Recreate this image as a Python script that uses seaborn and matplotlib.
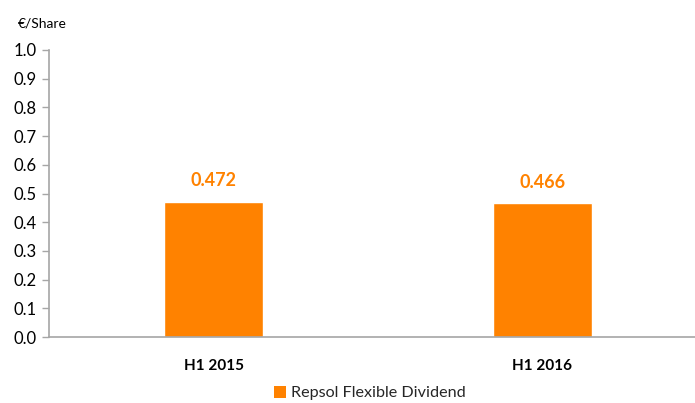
import matplotlib
matplotlib.use("Agg")
import matplotlib.pyplot as plt
import seaborn as sns
import pandas as pd
from matplotlib.patches import Patch

categories = ["H1 2015", "H1 2016"]
values = [0.472, 0.466]
value_labels = ["0.472", "0.466"]
series_name = "Repsol Flexible Dividend"
ytick_vals = [0.0, 0.1, 0.2, 0.3, 0.4, 0.5, 0.6, 0.7, 0.8, 0.9, 1.0]

sns.set_theme(style="white")
plt.rcParams['font.family'] = ['Lato', 'DejaVu Sans']

orange = "#FF8200"
gray = "#A6A6A6"

W, H = 695, 403
fig = plt.figure(figsize=(W / 100, H / 100), dpi=100)
left, right, bottom, top = 49, 707, 337, 50
ax = fig.add_axes([left / W, 1 - bottom / H, (right - left) / W, (bottom - top) / H])

df = pd.DataFrame({"cat": categories, "val": values})
sns.barplot(data=df, x="cat", y="val", color=orange, width=0.3, ax=ax, saturation=1)

ax.set_xlim(-0.5, 1.5)
ax.set_ylim(0, 1.0)
ax.set_yticks(ytick_vals)
ax.set_yticklabels([f"{v:.1f}" for v in ytick_vals], fontsize=12, color="#000000")
ax.set_xticks([0, 1])
ax.set_xticklabels(categories, fontsize=11, fontweight="bold", color="#000000")
ax.set_xticks([-0.5, 0.5, 1.5], minor=True)
ax.tick_params(axis="x", which="major", length=0, pad=16)
ax.tick_params(axis="x", which="minor", length=5, color=gray, width=1, direction="out")
ax.tick_params(axis="y", length=5, color=gray, width=1, direction="out", left=True, pad=4)
ax.set_xlabel("")
ax.set_ylabel("")

for s in ["top", "right"]:
    ax.spines[s].set_visible(False)
for s in ["left", "bottom"]:
    ax.spines[s].set_color(gray)
    ax.spines[s].set_linewidth(1.2)

for i, (v, lab) in enumerate(zip(values, value_labels)):
    ax.annotate(lab, (i, v), xytext=(0, 9), textcoords="offset points",
                ha="center", va="bottom", fontsize=13, fontweight="bold", color=orange)

fig.text(18 / W, 1 - 23 / H, "€/Share", fontsize=10, va="center", ha="left", color="#000000")

handles = [Patch(facecolor=orange, edgecolor="none", label=series_name)]
fig.legend(handles=handles, loc="center", bbox_to_anchor=(370 / W, 1 - 393 / H),
           frameon=False, fontsize=11.6, handlelength=0.75, handleheight=0.75, handletextpad=0.3,
           borderpad=0)

fig.savefig("out.png", dpi=100)
